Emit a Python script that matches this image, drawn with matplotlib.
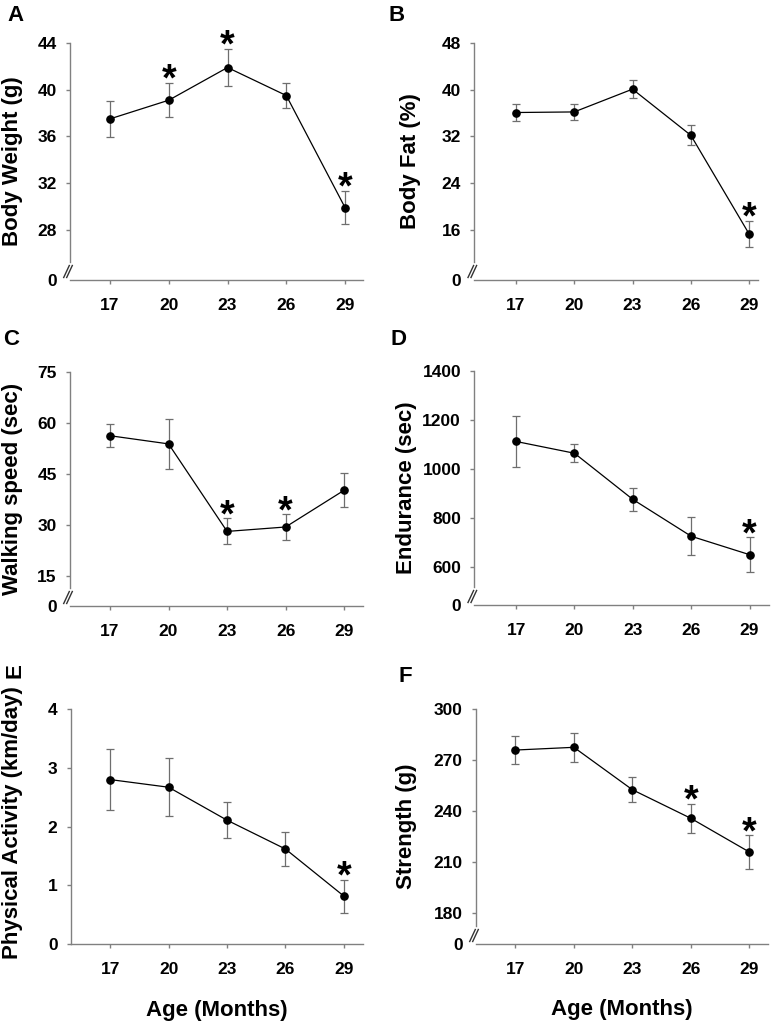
import matplotlib
matplotlib.use("Agg")
import matplotlib.pyplot as plt
import matplotlib.transforms as mtransforms

plt.rcParams['font.family'] = ['Liberation Sans', 'DejaVu Sans']
plt.rcParams['font.weight'] = 'bold'

# ---------------- data ----------------
ages = [17, 20, 23, 26, 29]
age_labels = ["17", "20", "23", "26", "29"]

bw_mean = [37.5, 39.1, 41.9, 39.5, 29.9]
bw_sem = [1.55, 1.45, 1.6, 1.1, 1.4]
bw_sig = [False, True, True, False, True]
bw_ticks = [28, 32, 36, 40, 44]

fat_mean = [36.1, 36.2, 40.1, 32.2, 15.3]
fat_sem = [1.4, 1.3, 1.55, 1.7, 2.2]
fat_sig = [False, False, False, False, True]
fat_ticks = [16, 24, 32, 40, 48]

walk_mean = [56.2, 53.8, 28.1, 29.4, 40.2]
walk_sem = [3.4, 7.4, 3.8, 3.7, 5.0]
walk_sig = [False, False, True, True, False]
walk_ticks = [15, 30, 45, 60, 75]

endu_mean = [1113, 1065, 877, 727, 652]
endu_sem = [103, 37, 46, 77, 70]
endu_sig = [False, False, False, False, True]
endu_ticks = [600, 800, 1000, 1200, 1400]

act_mean = [2.80, 2.67, 2.11, 1.62, 0.82]
act_sem = [0.52, 0.49, 0.31, 0.29, 0.28]
act_sig = [False, False, False, False, True]
act_ticks = [0, 1, 2, 3, 4]

str_mean = [275.9, 277.5, 252.6, 235.8, 216.0]
str_sem = [8.3, 8.4, 7.3, 8.5, 9.8]
str_sig = [False, False, False, True, True]
str_ticks = [180, 210, 240, 270, 300]

W, H = 772, 1022
DPI = 100
fig = plt.figure(figsize=(W / DPI, H / DPI), dpi=DPI)

GREY = '#808080'
TICK_FS = 12.5
LABEL_FS = 16
LETTER_FS = 16


def add_axes_px(left, right, top, bottom):
    return fig.add_axes([left / W, 1 - bottom / H, (right - left) / W, (bottom - top) / H])


panels = [
    dict(letter='A', pos=(70, 363.3, 43, 280), xlim=(14.96, 29.93), ylim=(23.7, 44),
         mean=bw_mean, sem=bw_sem, sig=bw_sig, ticks=bw_ticks, ylabel='Body Weight (g)',
         broken=True, lpos=(7, 21), lrot=0, ly=0.5, labx=23, xlabel=False),
    dict(letter='B', pos=(474.3, 757.7, 43, 280), xlim=(14.86, 29.44), ylim=(7.43, 48),
         mean=fat_mean, sem=fat_sem, sig=fat_sig, ticks=fat_ticks, ylabel='Body Fat (%)',
         broken=True, lpos=(389, 21), lrot=0, ly=0.5, labx=421, xlabel=False),
    dict(letter='C', pos=(70, 363.3, 371.7, 606), xlim=(14.95, 29.98), ylim=(6.2, 75),
         mean=walk_mean, sem=walk_sem, sig=walk_sig, ticks=walk_ticks, ylabel='Walking speed (sec)',
         broken=True, lpos=(3, 345), lrot=0, ly=0.5, labx=23, xlabel=False),
    dict(letter='D', pos=(474.3, 769, 371, 605), xlim=(14.85, 30.0), ylim=(447, 1400),
         mean=endu_mean, sem=endu_sem, sig=endu_sig, ticks=endu_ticks, ylabel='Endurance (sec)',
         broken=True, lpos=(391, 345), lrot=0, ly=0.5, labx=417, xlabel=False),
    dict(letter='E', pos=(70.7, 363.3, 709, 944.3), xlim=(14.97, 30.0), ylim=(0, 4),
         mean=act_mean, sem=act_sem, sig=act_sig, ticks=act_ticks, ylabel='Physical Activity (km/day)',
         broken=False, lpos=(4, 678), lrot=90, ly=0.518, labx=23, xlabel=True),
    dict(letter='F', pos=(476, 767.7, 709, 944), xlim=(14.98, 29.94), ylim=(162, 300),
         mean=str_mean, sem=str_sem, sig=str_sig, ticks=str_ticks, ylabel='Strength (g)',
         broken=True, lpos=(398, 682), lrot=0, ly=0.5, labx=417, xlabel=True),
]

for p in panels:
    l, r, t, b = p['pos']
    ax = add_axes_px(l, r, t, b)
    ax.errorbar(ages, p['mean'], yerr=p['sem'], fmt='none', ecolor='#6e6e6e',
                elinewidth=0.9, capsize=3, capthick=0.9, zorder=2)
    ax.plot(ages, p['mean'], color='black', lw=0.9, marker='o', ms=5.2,
            mfc='black', mec='black', zorder=3)
    for xv, m, s, sg in zip(ages, p['mean'], p['sem'], p['sig']):
        if sg:
            ax.annotate('*', xy=(xv, m + s), xytext=(0, -5.5), textcoords='offset points',
                        ha='center', va='baseline', fontsize=27, fontweight='bold',
                        color='black', zorder=4)
    ax.set_xlim(*p['xlim'])
    ax.set_ylim(*p['ylim'])
    ax.set_xticks(ages)
    ax.set_xticklabels(age_labels)
    for sp in ['top', 'right']:
        ax.spines[sp].set_visible(False)
    for sp in ['left', 'bottom']:
        ax.spines[sp].set_color(GREY)
        ax.spines[sp].set_linewidth(1.0)
    ax.tick_params(axis='both', direction='out', length=3, width=1.0, color=GREY,
                   labelsize=TICK_FS, labelcolor='black')
    ax.tick_params(axis='x', pad=10)
    ax.tick_params(axis='y', pad=6.5)

    if p['broken']:
        yt = [p['ylim'][0]] + list(p['ticks'])
        ax.set_yticks(yt)
        ax.set_yticklabels(['0'] + [str(v) for v in p['ticks']])
        ax.yaxis.get_major_ticks()[0].tick1line.set_visible(False)
        hpx = b - t
        frac = 18.0 / hpx
        ylo, yhi = p['ylim']
        ax.spines['left'].set_bounds(ylo + frac * (yhi - ylo), yhi)
        for dx in (-3.5, -0.5):
            tr = ax.transAxes + mtransforms.ScaledTranslation(dx / DPI, 8.5 / DPI, fig.dpi_scale_trans)
            ax.plot([-2.8 / (r - l), 2.8 / (r - l)], [-6 / hpx, 6 / hpx], transform=tr,
                    color='#333333', lw=1.0, clip_on=False)
    else:
        ax.set_yticks(p['ticks'])
        ax.set_yticklabels([str(v) for v in p['ticks']])

    for lab in ax.get_xticklabels() + ax.get_yticklabels():
        lab.set_fontweight('bold')

    ax.set_ylabel(p['ylabel'], fontsize=LABEL_FS, fontweight='bold')
    ax.yaxis.set_label_coords((p['labx'] - l) / (r - l), p['ly'])
    if p['xlabel']:
        ax.set_xlabel('Age (Months)', fontsize=LABEL_FS, fontweight='bold')
        ax.xaxis.set_label_coords(0.5, -0.236)

    lx, ly = p['lpos']
    if p['lrot']:
        fig.text(lx / W, 1 - ly / H, p['letter'], fontsize=LETTER_FS, fontweight='bold',
                 ha='left', va='bottom', rotation=p['lrot'])
    else:
        fig.text(lx / W, 1 - ly / H, p['letter'], fontsize=LETTER_FS, fontweight='bold',
                 ha='left', va='baseline')

fig.savefig('out.png', dpi=DPI)
